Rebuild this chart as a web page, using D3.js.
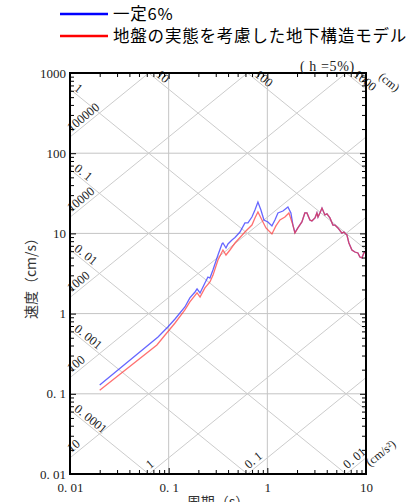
<!DOCTYPE html>
<html>
<head>
<meta charset="utf-8">
<script src="https://cdn.jsdelivr.net/npm/d3@7"></script>
<style>
body { margin: 0; background: #fff; }
svg { display: block; }
</style>
</head>
<body>
<div id="chart"></div>
<script>
// data (period s, velocity cm/s)
var periodsBlue = [0.02, 0.078, 0.098, 0.116, 0.146, 0.164, 0.185, 0.194, 0.208, 0.233, 0.250, 0.262, 0.281, 0.316, 0.347, 0.355, 0.381, 0.399, 0.438, 0.470, 0.528, 0.593, 0.636, 0.698, 0.749, 0.803, 0.861, 0.924, 1.014, 1.113, 1.194, 1.281, 1.439, 1.617, 1.734, 1.817, 1.904,
  2.04, 2.24, 2.40, 2.52, 2.70, 2.83, 3.04, 3.18, 3.26, 3.41, 3.58, 3.83, 4.02, 4.31, 4.62, 4.84, 5.19, 5.70, 5.97, 6.41, 6.71, 7.20, 7.72, 8.28, 8.67, 9.09, 9.52, 10.0];
var velocityBlue = [0.129, 0.511, 0.681, 0.856, 1.21, 1.57, 1.86, 2.03, 1.81, 2.41, 2.86, 2.78, 3.50, 5.38, 7.38, 7.59, 6.58, 7.38, 8.27, 8.9, 10.4, 13.5, 13.5, 16.0, 19.6, 24.6, 19.6, 14.7, 13.9, 12.4, 14.7, 18.0, 19.0, 21.3, 18.0, 12.7, 10.2,
  11.7, 13.9, 18.0, 18.0, 14.7, 14.3, 15.6, 18.0, 16.0, 18.0, 20.7, 17.0, 17.5, 15.6, 12.7, 12.7, 11.7, 10.1, 10.4, 9.55, 7.59, 6.21, 5.86, 5.70, 5.08, 4.96, 5.70, 6.04];

var periodsRed = [0.02, 0.076, 0.092, 0.116, 0.146, 0.164, 0.194, 0.208, 0.233, 0.262, 0.281, 0.316, 0.355, 0.381, 0.418, 0.470, 0.593, 0.698, 0.749, 0.803, 0.882, 0.968, 1.113, 1.222, 1.342, 1.508, 1.655, 1.817, 1.904,
  2.04, 2.24, 2.40, 2.52, 2.70, 2.83, 3.04, 3.18, 3.26, 3.41, 3.58, 3.83, 4.02, 4.31, 4.62, 4.84, 5.19, 5.70, 5.97, 6.41, 6.71, 7.20, 7.72, 8.28, 8.67, 9.09, 9.52, 10.0];
var velocityRed = [0.111, 0.406, 0.541, 0.764, 1.11, 1.40, 1.81, 1.61, 2.09, 2.48, 3.0, 4.66, 6.21, 5.38, 6.21, 7.59, 10.4, 12.7, 15.6, 18.5, 14.7, 11.7, 9.83, 12.4, 14.7, 16.0, 18.0, 12.7, 10.1,
  11.7, 13.9, 18.0, 18.0, 14.7, 14.3, 15.6, 18.0, 16.0, 18.0, 20.7, 17.0, 17.5, 15.6, 12.7, 12.7, 11.7, 10.1, 10.4, 9.55, 7.59, 6.21, 5.86, 5.70, 5.08, 4.96, 5.70, 6.04];

var legendNames = ['一定6%', '地盤の実態を考慮した地下構造モデル'];
var legendColors = ['#0000ff', '#ff0000'];

var xTickValues = [0.01, 0.1, 1, 10];
var xTickLabels = ['0. 01', '0. 1', '1', '10'];
var yTickValues = [0.01, 0.1, 1, 10, 100, 1000];
var yTickLabels = ['0. 01', '0. 1', '1', '10', '100', '1000'];

// displacement lines (cm) and acceleration lines (cm/s2)
var dispValues = [0.0001, 0.001, 0.01, 0.1, 1, 10, 100, 1000];
var dispLabels = ['0. 0001', '0. 001', '0. 01', '0. 1', '1', '10', '100', '1000'];
var accValues = [0.01, 0.1, 1, 10, 100, 1000, 10000, 100000];
var accLabels = ['0. 01', '0. 1', '1', '10', '100', '1000', '10000', '100000'];

var serif = '"Liberation Serif", "DejaVu Serif", serif';
var cjk = '"Noto Sans CJK JP", "Noto Sans", sans-serif';

var svg = d3.select('#chart')
  .append('svg')
  .attr('width', 417)
  .attr('height', 502);

var x = d3.scaleLog().domain([0.01, 10]).range([70, 366]);
var y = d3.scaleLog().domain([0.01, 1000]).range([474, 73]);

var TWO_PI = 2 * Math.PI;
var ang = Math.atan2(y(1) - y(10), x(10) - x(1)) * 180 / Math.PI;

// straight grid
svg.append('g').selectAll('line.v')
  .data(xTickValues.slice(1, -1))
  .enter().append('line')
  .attr('x1', function(d) { return x(d); })
  .attr('x2', function(d) { return x(d); })
  .attr('y1', y(0.01)).attr('y2', y(1000))
  .attr('stroke', '#c4c4c4').attr('stroke-width', 1);
svg.append('g').selectAll('line.h')
  .data(yTickValues.slice(1, -1))
  .enter().append('line')
  .attr('x1', x(0.01)).attr('x2', x(10))
  .attr('y1', function(d) { return y(d); })
  .attr('y2', function(d) { return y(d); })
  .attr('stroke', '#c4c4c4').attr('stroke-width', 1);

// diagonal grid
var dispSeg = function(D) {
  var t0 = Math.max(0.01, TWO_PI * D / 1000), t1 = Math.min(10, TWO_PI * D / 0.01);
  return [[t0, TWO_PI * D / t0], [t1, TWO_PI * D / t1]];
};
var accSeg = function(A) {
  var t0 = Math.max(0.01, TWO_PI * 0.01 / A), t1 = Math.min(10, TWO_PI * 1000 / A);
  return [[t0, A * t0 / TWO_PI], [t1, A * t1 / TWO_PI]];
};
var diag = svg.append('g');
dispValues.forEach(function(D, i) {
  var s = dispSeg(D);
  diag.append('line')
    .attr('x1', x(s[0][0])).attr('y1', y(s[0][1]))
    .attr('x2', x(s[1][0])).attr('y2', y(s[1][1]))
    .attr('stroke', '#cccccc').attr('stroke-width', 1);
  var onTop = s[0][0] > 0.0100001;
  var px = x(s[0][0]), py = y(s[0][1]);
  diag.append('text')
    .attr('transform', 'translate(' + px + ',' + py + ') rotate(' + ang + ')')
    .attr('x', onTop ? 7 : 3).attr('y', -2)
    .attr('font-family', serif).attr('font-size', 12.5)
    .attr('fill', '#222')
    .text(dispLabels[i]);
});
accValues.forEach(function(A, i) {
  var s = accSeg(A);
  diag.append('line')
    .attr('x1', x(s[0][0])).attr('y1', y(s[0][1]))
    .attr('x2', x(s[1][0])).attr('y2', y(s[1][1]))
    .attr('stroke', '#cccccc').attr('stroke-width', 1);
  var px = x(s[0][0]), py = y(s[0][1]);
  diag.append('text')
    .attr('transform', 'translate(' + px + ',' + py + ') rotate(' + (-ang) + ')')
    .attr('x', 4).attr('y', -3)
    .attr('font-family', serif).attr('font-size', 12.5)
    .attr('fill', '#222')
    .text(accLabels[i]);
});
diag.append('text')
  .attr('transform', 'translate(378,78) rotate(' + ang + ')')
  .attr('font-family', serif).attr('font-size', 12).attr('fill', '#222')
  .text('(cm)');
diag.append('text')
  .attr('transform', 'translate(370,467) rotate(' + (-ang) + ')')
  .attr('font-family', serif).attr('font-size', 12).attr('fill', '#222')
  .text('(cm/s²)');

// spectra
var line = d3.line()
  .x(function(d) { return x(d[0]); })
  .y(function(d) { return y(d[1]); });
svg.append('path')
  .datum(d3.zip(periodsBlue, velocityBlue))
  .attr('fill', 'none').attr('stroke', '#3333ff').attr('stroke-opacity', 0.75)
  .attr('stroke-width', 1.3).attr('d', line);
svg.append('path')
  .datum(d3.zip(periodsRed, velocityRed))
  .attr('fill', 'none').attr('stroke', '#ff3333').attr('stroke-opacity', 0.7)
  .attr('stroke-width', 1.3).attr('d', line);

// ticks on all four sides, pointing inward
var minorX = [], minorY = [];
for (var k = -2; k < 1; k++) for (var m = 2; m < 10; m++) minorX.push(m * Math.pow(10, k));
for (var k2 = -2; k2 < 3; k2++) for (var m2 = 2; m2 < 10; m2++) minorY.push(m2 * Math.pow(10, k2));

var styleAxis = function(g) {
  g.select('.domain').remove();
  g.selectAll('line').attr('stroke', '#000').attr('stroke-width', 1);
  g.selectAll('text').attr('font-family', serif).attr('font-size', 13).attr('fill', '#222');
};

svg.append('g').attr('transform', 'translate(0,474)')
  .call(d3.axisBottom(x).tickValues(xTickValues).tickSize(-6).tickPadding(9)
    .tickFormat(function(d, i) { return xTickLabels[i]; }))
  .call(styleAxis);
svg.append('g').attr('transform', 'translate(0,474)')
  .call(d3.axisBottom(x).tickValues(minorX).tickSize(-4).tickFormat(''))
  .call(styleAxis);
svg.append('g').attr('transform', 'translate(0,73)')
  .call(d3.axisTop(x).tickValues(xTickValues).tickSize(-6).tickFormat(''))
  .call(styleAxis);
svg.append('g').attr('transform', 'translate(0,73)')
  .call(d3.axisTop(x).tickValues(minorX).tickSize(-4).tickFormat(''))
  .call(styleAxis);
svg.append('g').attr('transform', 'translate(70,0)')
  .call(d3.axisLeft(y).tickValues(yTickValues).tickSize(-6).tickPadding(4)
    .tickFormat(function(d, i) { return yTickLabels[i]; }))
  .call(styleAxis);
svg.append('g').attr('transform', 'translate(70,0)')
  .call(d3.axisLeft(y).tickValues(minorY).tickSize(-4).tickFormat(''))
  .call(styleAxis);
svg.append('g').attr('transform', 'translate(366,0)')
  .call(d3.axisRight(y).tickValues(yTickValues).tickSize(-6).tickFormat(''))
  .call(styleAxis);
svg.append('g').attr('transform', 'translate(366,0)')
  .call(d3.axisRight(y).tickValues(minorY).tickSize(-4).tickFormat(''))
  .call(styleAxis);

// frame
svg.append('rect')
  .attr('x', 70).attr('y', 73).attr('width', 296).attr('height', 401)
  .attr('fill', 'none').attr('stroke', '#000').attr('stroke-width', 2);

// damping note
svg.append('text')
  .attr('x', 300).attr('y', 71)
  .attr('font-family', serif).attr('font-size', 14).attr('fill', '#222')
  .attr('letter-spacing', 0.6)
  .text('( h =5%)');

// axis titles
svg.append('text')
  .attr('transform', 'translate(36,275) rotate(-90)')
  .attr('text-anchor', 'middle')
  .attr('font-family', cjk).attr('font-size', 14).attr('fill', '#333')
  .text('速度（cm/s）');
svg.append('text')
  .attr('x', 218).attr('y', 507)
  .attr('text-anchor', 'middle')
  .attr('font-family', cjk).attr('font-size', 14).attr('fill', '#333')
  .text('周期（s）');

// legend
var legend = svg.append('g');
legendNames.forEach(function(name, i) {
  var ly = 14 + i * 22;
  legend.append('line')
    .attr('x1', 60).attr('x2', 108).attr('y1', ly).attr('y2', ly)
    .attr('stroke', legendColors[i]).attr('stroke-width', 2.5);
  legend.append('text')
    .attr('x', 113).attr('y', ly + 6)
    .attr('font-family', cjk).attr('font-size', 16.5).attr('fill', '#000')
    .attr('letter-spacing', 0.8)
    .text(name);
});
</script>
</body>
</html>
